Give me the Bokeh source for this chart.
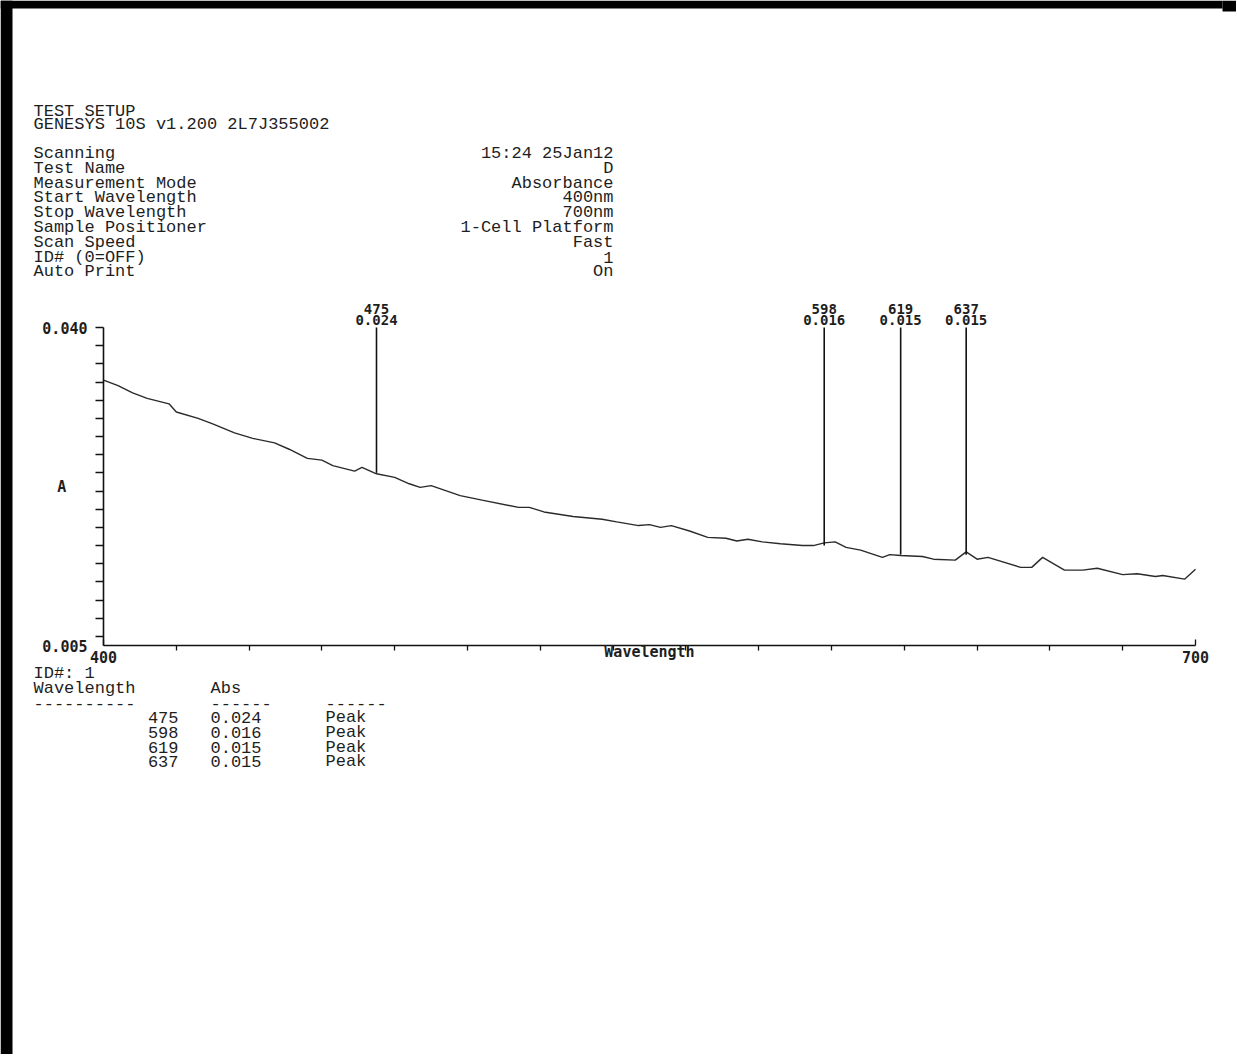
from bokeh.plotting import figure
from bokeh.models import (Range1d, FixedTicker, Label, LabelSet, ColumnDataSource,
                          BoxAnnotation)
from bokeh.core.properties import value
from bokeh.embed import file_html
from bokeh.resources import INLINE

# ---------------- data ----------------
wavelength = [400, 404, 408, 412, 418, 420, 426, 430, 436, 441, 447, 451, 456, 460,
              463, 469, 471, 475, 480, 484, 487, 490, 498, 504, 514, 517, 521, 529,
              537, 541, 547, 550, 553, 556, 561, 566, 571, 574, 577, 581, 586, 592,
              595, 598, 601, 604, 608, 614, 616, 619, 625, 628, 634, 637, 640, 643,
              652, 655, 658, 664, 669, 673, 680, 684, 689, 691, 697, 700]
absorbance = [0.0342, 0.0336, 0.0328, 0.0322, 0.0316, 0.0307, 0.0300, 0.0294, 0.0284,
              0.0278, 0.0273, 0.0266, 0.0256, 0.0254, 0.0248, 0.0242, 0.0246, 0.0239,
              0.0235, 0.0228, 0.0224, 0.0226, 0.0215, 0.0210, 0.0202, 0.0202, 0.0197,
              0.0192, 0.0189, 0.0186, 0.0182, 0.0183, 0.0180, 0.0182, 0.0176, 0.0169,
              0.0168, 0.0165, 0.0167, 0.0164, 0.0162, 0.0160, 0.0160, 0.0163, 0.0164,
              0.0158, 0.0155, 0.0147, 0.0150, 0.0149, 0.0148, 0.0145, 0.0144, 0.0153,
              0.0145, 0.0147, 0.0136, 0.0136, 0.0147, 0.0133, 0.0133, 0.0135, 0.0128,
              0.0129, 0.0126, 0.0127, 0.0123, 0.0134]

peak_wl = [475, 598, 619, 637]
peak_abs = [0.024, 0.016, 0.015, 0.015]
peak_kind = ["Peak", "Peak", "Peak", "Peak"]

x_tick_values = [400, 700]
y_tick_values = [0.005, 0.040]
y_tick_labels = ["0.005", "0.040"]
x_label = "Wavelength"
y_label = "A"

header_lines = ["TEST SETUP", "GENESYS 10S v1.200 2L7J355002"]
setup_fields = ["Scanning", "Test Name", "Measurement Mode", "Start Wavelength",
                "Stop Wavelength", "Sample Positioner", "Scan Speed", "ID# (0=OFF)",
                "Auto Print"]
setup_values = ["15:24 25Jan12", "D", "Absorbance", "400nm", "700nm",
                "1-Cell Platform", "Fast", "1", "On"]
table_id = "ID#: 1"
table_headers = ["Wavelength", "Abs"]
table_rules = ["----------", "------", "------"]

# ---------------- layout (page pixels) ----------------
W, H = 1236, 1054
AX_L, AX_R = 103, 1195      # page x of the 400 / 700 ends of the x axis
AX_T, AX_B = 327, 645       # page y of the 0.040 / 0.005 ends of the y axis
x0, x1 = x_tick_values
y0, y1 = y_tick_values
kx = (AX_R - AX_L) / (x1 - x0)
ky = (AX_B - AX_T) / (y1 - y0)
x_range = Range1d(x0 - AX_L / kx, x1 + (W - AX_R) / kx)
y_range = Range1d(y0 - (H - AX_B) / ky, y1 + AX_T / ky)

MONO = "Liberation Mono"
BOLD = "DejaVu Sans Mono"
TXT = "#1e1e1e"

p = figure(width=W, height=H, output_backend="svg", toolbar_location=None,
           title=None, x_range=x_range, y_range=y_range,
           min_border_left=0, min_border_right=0, min_border_top=0,
           min_border_bottom=0)
p.outline_line_color = None
p.grid.visible = False
p.background_fill_color = "white"
p.border_fill_color = "white"

# scanned page edges
for l, r, b, t in ((0, 12, 0, H), (0, 1222, H - 8, H), (1222, W, H - 11, H)):
    p.add_layout(BoxAnnotation(left=l, right=r, bottom=b, top=t,
                               left_units="screen", right_units="screen",
                               bottom_units="screen", top_units="screen",
                               fill_color="black", fill_alpha=1.0, line_color=None))

# spectrum
p.line(wavelength, absorbance, line_color="#2a2a2a", line_width=1.4)

# peak markers
src = ColumnDataSource(dict(
    wl=peak_wl, a=peak_abs, top=[y1] * len(peak_wl),
    wl_txt=[str(w) for w in peak_wl], a_txt=["%.3f" % a for a in peak_abs]))
p.segment(x0="wl", y0="a", x1="wl", y1="top", source=src,
          line_color="#111111", line_width=1.6)
for col, off in (("wl_txt", 19), ("a_txt", 8)):
    p.add_layout(LabelSet(x="wl", y="top", text=col, source=src, y_offset=off,
                          text_align=value("center"), text_baseline=value("middle"),
                          text_font=value(BOLD), text_font_style=value("bold"),
                          text_font_size=value("14px"), text_color=value(TXT)))

# axes (pinned inside the frame at the data corner)
xa = p.xaxis[0]
xa.fixed_location = y0
xa.bounds = (x0, x1)
xa.ticker = FixedTicker(ticks=x_tick_values, minor_ticks=list(range(420, 700, 20)))
xa.major_tick_in = 6
xa.major_tick_out = 0
xa.minor_tick_in = 0
xa.minor_tick_out = 5
xa.major_label_standoff = 0
xa.axis_label = x_label
xa.axis_label_standoff = -23

ya = p.yaxis[0]
ya.fixed_location = x0
ya.bounds = (y0, y1)
ya.ticker = FixedTicker(ticks=y_tick_values,
                        minor_ticks=[round(0.006 + 0.002 * i, 3) for i in range(18)])
ya.major_label_overrides = dict(zip(y_tick_values, y_tick_labels))
ya.major_tick_in = 0
ya.major_tick_out = 0
ya.minor_tick_in = 0
ya.minor_tick_out = 8
ya.major_label_standoff = 8
ya.axis_label = y_label
ya.axis_label_standoff = -27
try:
    ya.axis_label_orientation = "horizontal"
except Exception:
    pass

for ax in (xa, ya):
    ax.axis_line_color = "#111111"
    ax.axis_line_width = 1.6
    ax.major_tick_line_color = "#111111"
    ax.minor_tick_line_color = "#111111"
    ax.major_tick_line_width = 1.3
    ax.minor_tick_line_width = 1.3
    ax.major_label_text_font = BOLD
    ax.major_label_text_font_style = "bold"
    ax.major_label_text_font_size = "15px"
    ax.major_label_text_color = TXT
    ax.axis_label_text_font = BOLD
    ax.axis_label_text_font_style = "bold"
    ax.axis_label_text_font_size = "15px"
    ax.axis_label_text_color = TXT


def put(text, X, Y, align="left", size="17px"):
    p.add_layout(Label(x=X, y=H - Y, x_units="screen", y_units="screen",
                       text=text, text_align=align, text_baseline="middle",
                       text_font=MONO, text_font_size=size, text_color=TXT))


# header
put(header_lines[0], 33, 111)
put(header_lines[1], 33, 124)
for i, (f, v) in enumerate(zip(setup_fields, setup_values)):
    Y = 153 + i * 14.8
    put(f, 33, Y)
    put(v, 613, Y, align="right")

# result table
put(table_id, 33, 673)
put(table_headers[0], 33, 688)
put(table_headers[1], 210, 688)
for X, r in zip((33, 210, 325), table_rules):
    put(r, X, 703)
for i, (w, a, k) in enumerate(zip(peak_wl, peak_abs, peak_kind)):
    Y = 717 + i * 14.8
    put(str(w), 178, Y, align="right")
    put("%.3f" % a, 210, Y)
    put(k, 325, Y)

open("out.html", "w").write(file_html(p, INLINE))
